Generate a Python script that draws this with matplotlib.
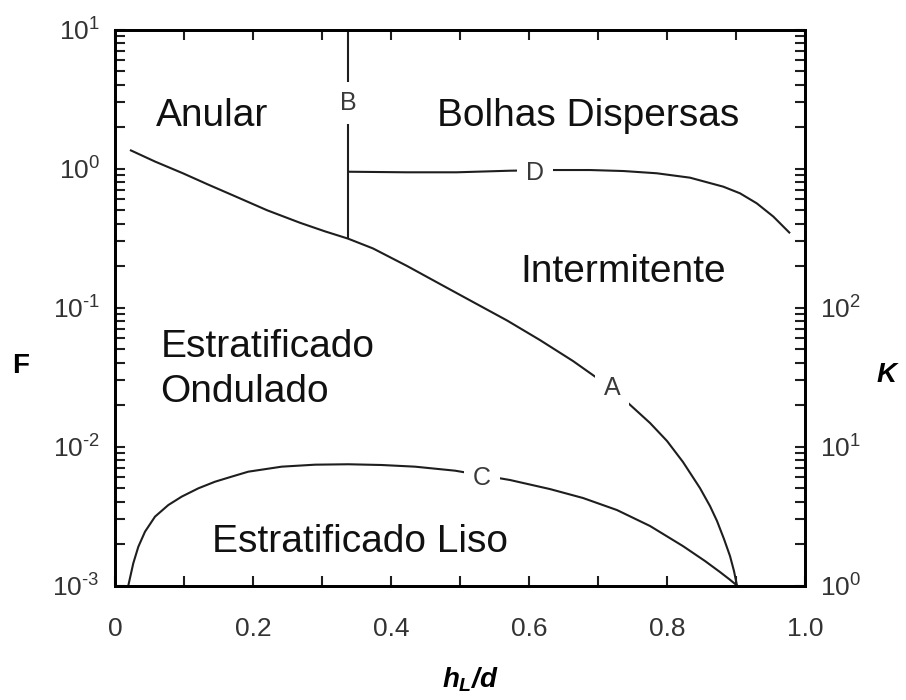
import matplotlib
matplotlib.use('Agg')
import matplotlib.pyplot as plt
from matplotlib.ticker import MultipleLocator, LogLocator, NullFormatter, FixedLocator

plt.rcParams['font.family'] = ['Liberation Sans', 'DejaVu Sans']
plt.rcParams['mathtext.fontset'] = 'custom'
plt.rcParams['mathtext.it'] = 'Liberation Sans:italic:bold'
plt.rcParams['mathtext.rm'] = 'Liberation Sans:italic:bold'
plt.rcParams['mathtext.bf'] = 'Liberation Sans:italic:bold'

# ---------------- data ----------------
# Curve A (stratified -> non-stratified transition)
curve_A_x = [0.0217, 0.0580, 0.0986, 0.1348, 0.1710, 0.2203, 0.2681, 0.3043, 0.3377, 0.3739,
             0.4232, 0.4710, 0.5188, 0.5681, 0.6159, 0.6638, 0.6986, 0.7420, 0.7754, 0.8000,
             0.8232, 0.8478, 0.8623, 0.8725, 0.8826, 0.8913, 0.8971, 0.9014]
curve_A_F = [1.359, 1.122, 0.923, 0.767, 0.641, 0.501, 0.407, 0.353, 0.313, 0.266,
             0.199, 0.1476, 0.1096, 0.0807, 0.0583, 0.0412, 0.0311, 0.0209, 0.01476, 0.01096,
             0.00773, 0.00502, 0.00373, 0.00291, 0.00216, 0.00163, 0.00127, 0.001]

# Curve B (vertical boundary)
curve_B_x = [0.3377, 0.3377]
curve_B_F = [0.313, 10.0]

# Curve C (smooth / wavy stratified)
curve_C_x = [0.0193, 0.0265, 0.0338, 0.0435, 0.0580, 0.0772, 0.0967, 0.1207, 0.1449, 0.1691,
             0.1932, 0.2416, 0.2899, 0.3381, 0.3865, 0.4348, 0.4928, 0.5725, 0.6304, 0.6783,
             0.7275, 0.7754, 0.8232, 0.8551, 0.8768, 0.8913, 0.9014]
curve_C_F = [0.001, 0.001445, 0.0019, 0.00244, 0.00313, 0.00379, 0.00436, 0.0050, 0.00558, 0.00607,
             0.00659, 0.00716, 0.0074, 0.00745, 0.00736, 0.00716, 0.0067, 0.00574, 0.00494, 0.00426,
             0.00349, 0.00268, 0.00192, 0.0015, 0.00125, 0.0011, 0.001]

# Curve D (intermittent / dispersed bubble)
curve_D_x = [0.3377, 0.4228, 0.4952, 0.5725, 0.6352, 0.6884, 0.7367, 0.7851, 0.8333, 0.8816,
             0.9058, 0.9300, 0.9541, 0.9783]
curve_D_F = [0.948, 0.939, 0.939, 0.964, 0.975, 0.975, 0.959, 0.924, 0.859, 0.740,
             0.663, 0.562, 0.451, 0.342]

x_ticks = [0, 0.2, 0.4, 0.6, 0.8, 1.0]
x_tick_labels = ['0', '0.2', '0.4', '0.6', '0.8', '1.0']
F_ticks = [1e-3, 1e-2, 1e-1, 1e0, 1e1]
F_tick_labels = ['$\\mathregular{10^{\u20103}}$', '$\\mathregular{10^{\u20102}}$',
                 '$\\mathregular{10^{\u20101}}$', r'$\mathregular{10^{0}}$', r'$\mathregular{10^{1}}$']
K_ticks = [1e0, 1e1, 1e2, 1e3, 1e4]
K_tick_labels = [r'$\mathregular{10^{0}}$', r'$\mathregular{10^{1}}$', r'$\mathregular{10^{2}}$', '', '']

regions = ['Anular', 'Bolhas Dispersas', 'Intermitente', 'Estratificado', 'Ondulado', 'Estratificado Liso']
region_x = [0.059, 0.467, 0.588, 0.066, 0.066, 0.141]
region_F = [2.03, 2.03, 0.153, 0.0443, 0.0208, 0.00175]

curve_letters = ['A', 'B', 'C', 'D']
letter_x = [0.720, 0.338, 0.532, 0.609]
letter_F = [0.0235, 2.64, 0.00528, 0.826]

# ---------------- figure ----------------
fig = plt.figure(figsize=(9.06, 7.0), dpi=100)
ax = fig.add_axes([115 / 906, 1 - 585.5 / 700, (805 - 115) / 906, (585.5 - 29.5) / 700])

line_kw = dict(color='#1e1e1e', lw=1.5, solid_capstyle='butt', solid_joinstyle='round')
ax.plot(curve_A_x, curve_A_F, **line_kw)
ax.plot(curve_B_x, curve_B_F, **line_kw)
ax.plot(curve_C_x, curve_C_F, **line_kw)
ax.plot(curve_D_x, curve_D_F, **line_kw)

ax.set_xlim(0, 1.0)
ax.set_yscale('log')
ax.set_ylim(1e-3, 1e1)

ax.xaxis.set_major_locator(FixedLocator(x_ticks))
ax.set_xticklabels(x_tick_labels)
ax.xaxis.set_minor_locator(MultipleLocator(0.1))
ax.yaxis.set_major_locator(FixedLocator(F_ticks))
ax.set_yticklabels(F_tick_labels)
ax.yaxis.set_minor_locator(LogLocator(base=10, subs=range(2, 10), numticks=20))
ax.yaxis.set_minor_formatter(NullFormatter())

ax.tick_params(axis='both', which='both', direction='in', length=7, width=1.5,
               top=True, right=False, colors='#1e1e1e', labelcolor='#333333')
ax.tick_params(axis='x', which='major', pad=23, labelsize=19)
ax.tick_params(axis='y', which='major', pad=11, labelsize=19)

for s in ax.spines.values():
    s.set_linewidth(2.0)

ax2 = ax.twinx()
ax2.set_yscale('log')
ax2.set_ylim(1e0, 1e4)
ax2.yaxis.set_major_locator(FixedLocator(K_ticks))
ax2.set_yticklabels(K_tick_labels)
ax2.yaxis.set_minor_locator(LogLocator(base=10, subs=range(2, 10), numticks=20))
ax2.yaxis.set_minor_formatter(NullFormatter())
ax2.tick_params(axis='y', which='both', direction='in', length=7, width=1.5,
                colors='#1e1e1e', labelcolor='#333333')
ax2.tick_params(axis='y', which='major', pad=11, labelsize=19)
for s in ax2.spines.values():
    s.set_linewidth(2.0)

for name, x, F in zip(regions, region_x, region_F):
    ax.text(x, F, name, fontsize=28, color='#111111', ha='left', va='baseline')

for name, x, F in zip(curve_letters, letter_x, letter_F):
    ax.text(x, F, name, fontsize=18, color='#3a3a3a', ha='center', va='baseline',
            bbox=dict(boxstyle='square,pad=0.35', fc='white', ec='none'), zorder=5)

fig.text(0.0232, 0.477, 'F', fontsize=20, fontweight='bold', ha='center', va='center')
fig.text(0.979, 0.464, 'K', fontsize=20, fontweight='bold', style='italic', ha='center', va='center')
fig.text(0.519, 0.029, r'$h_L/d$', fontsize=20, ha='center', va='center')

fig.savefig('out.png', dpi=100)
